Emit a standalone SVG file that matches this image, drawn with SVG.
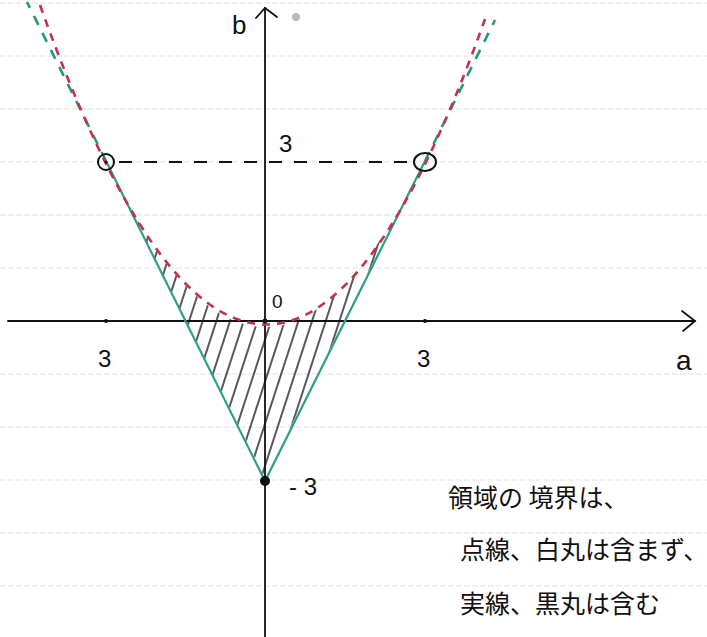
<svg xmlns="http://www.w3.org/2000/svg" width="707" height="637" viewBox="0 0 707 637">
<style>
.paper{stroke:#e4e1d3;stroke-width:1.2;stroke-dasharray:6 2}
.axis{stroke:#111;stroke-width:1.8;fill:none;stroke-linecap:round}
.green{stroke:#2f9e86;stroke-width:2.2;fill:none}
.greend{stroke:#1f9a7c;stroke-width:2.6;fill:none;stroke-dasharray:10 9}
.red{stroke:#c2324f;stroke-width:2.6;fill:none;stroke-dasharray:8 7}
.lbl{font-family:"Liberation Sans","Noto Sans",sans-serif;fill:#111}
.jp{font-family:"Noto Sans CJK JP",sans-serif;font-size:25px;fill:#111}
</style>
<defs>
<pattern id="hatch" patternUnits="userSpaceOnUse" width="13" height="40" patternTransform="rotate(18)">
<line x1="6" y1="0" x2="6" y2="40" stroke="#111" stroke-width="1.4"/>
</pattern>
<clipPath id="region"><path d="M112,173 L265,478 L418,173 Q265,481 112,173 Z"/></clipPath>
</defs>
<rect width="707" height="637" fill="#fff"/>
<g id="paper">
<line class="paper" x1="0" y1="3" x2="707" y2="3"/>
<line class="paper" x1="0" y1="56" x2="707" y2="56"/>
<line class="paper" x1="0" y1="109" x2="707" y2="109"/>
<line class="paper" x1="0" y1="162" x2="707" y2="162"/>
<line class="paper" x1="0" y1="215" x2="707" y2="215"/>
<line class="paper" x1="0" y1="268" x2="707" y2="268"/>
<line class="paper" x1="0" y1="374" x2="707" y2="374"/>
<line class="paper" x1="0" y1="427" x2="707" y2="427"/>
<line class="paper" x1="0" y1="480" x2="707" y2="480"/>
<line class="paper" x1="0" y1="533" x2="707" y2="533"/>
<line class="paper" x1="0" y1="586" x2="707" y2="586"/>
<circle cx="296" cy="17" r="4" fill="#bbb"/>
</g>
<g id="hatching">
<rect x="100" y="150" width="340" height="340" fill="url(#hatch)" clip-path="url(#region)"/>
</g>
<g id="axes">
<line class="axis" x1="8" y1="321" x2="695" y2="321"/>
<path class="axis" d="M682,311 L695,321 L683,331"/>
<line class="axis" x1="265" y1="637" x2="265" y2="8"/>
<path class="axis" d="M256,18 L265,8 L277,17"/>
<circle cx="106" cy="321" r="2" fill="#111"/>
<circle cx="425" cy="321" r="2" fill="#111"/>
</g>
<g id="connectors">
<line x1="119" y1="162" x2="414" y2="162" stroke="#111" stroke-width="2" stroke-dasharray="13 12"/>
<path class="green" d="M106,161 L265,481 L425,161"/>
<path class="greend" d="M106,161 L27,2"/>
<path class="greend" d="M425,161 L495,20"/>
<path class="red" d="M40,5 Q265,637 485,19"/>
</g>
<g id="points">
<circle cx="106" cy="162" r="8" fill="none" stroke="#111" stroke-width="2"/>
<circle cx="106" cy="162" r="1.5" fill="#111"/>
<ellipse cx="425" cy="162" rx="11" ry="9" fill="none" stroke="#111" stroke-width="2"/>
<circle cx="265" cy="481" r="5" fill="#111"/>
<circle cx="265" cy="321" r="2.5" fill="#111"/>
</g>
<g id="labels">
<text class="lbl" x="232" y="34" font-size="26">b</text>
<text class="lbl" x="676" y="370" font-size="28">a</text>
<text class="lbl" x="98" y="367" font-size="24">3</text>
<text class="lbl" x="417" y="367" font-size="24">3</text>
<text class="lbl" x="272" y="308" font-size="19">0</text>
<text class="lbl" x="279" y="152" font-size="24">3</text>
<text class="lbl" x="289" y="495" font-size="24">- 3</text>
</g>
<g id="note">
<text class="jp" x="448" y="507">領域の 境界は、</text>
<text class="jp" x="460" y="559">点線、白丸は含まず、</text>
<text class="jp" x="460" y="613">実線、黒丸は含む</text>
</g>
</svg>
